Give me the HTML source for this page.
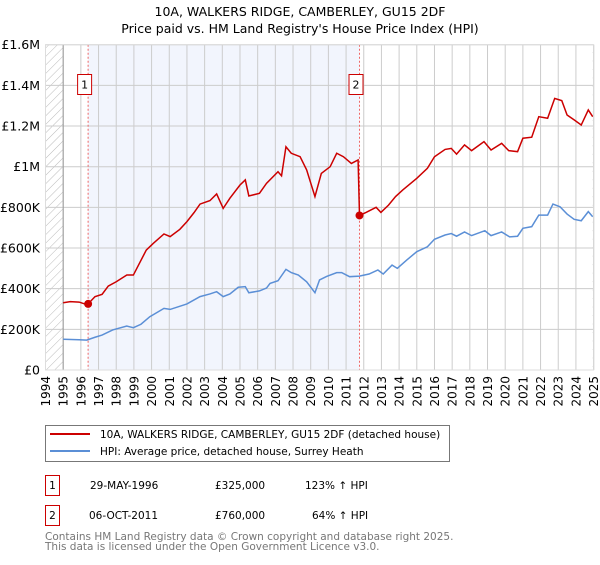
<!DOCTYPE html>
<html><head><meta charset="utf-8"><style>
body{margin:0;background:#fff;font-family:"Liberation Sans","DejaVu Sans",sans-serif;}
svg text{font-family:"DejaVu Sans","Liberation Sans",sans-serif;}
</style></head><body>
<svg id="chart" width="600" height="560" xmlns="http://www.w3.org/2000/svg">
<defs><pattern id="hatch" width="6" height="6" patternUnits="userSpaceOnUse" patternTransform="rotate(45)"><line x1="0" y1="0" x2="0" y2="6" stroke="#bbb" stroke-width="1"/></pattern></defs>
<text x="300" y="16" text-anchor="middle" font-size="12.5">10A, WALKERS RIDGE, CAMBERLEY, GU15 2DF</text>
<text x="300" y="33" text-anchor="middle" font-size="12.5">Price paid vs. HM Land Registry's House Price Index (HPI)</text>
<g id="plot"></g>
<g>
<rect x="45.5" y="425.5" width="404" height="36" fill="#fff" stroke="#777"/>
<line x1="50" y1="434" x2="90" y2="434" stroke="#cc0000" stroke-width="2"/>
<text x="100" y="438" font-size="10.5">10A, WALKERS RIDGE, CAMBERLEY, GU15 2DF (detached house)</text>
<line x1="50" y1="451" x2="90" y2="451" stroke="#5b8fd6" stroke-width="2"/>
<text x="100" y="455" font-size="10.5">HPI: Average price, detached house, Surrey Heath</text>
</g>
<g font-size="10.5">
<rect x="45.5" y="475.5" width="14" height="20" fill="#fff" stroke="#cc0000"/>
<text x="52.5" y="489" text-anchor="middle">1</text>
<text x="90" y="489">29-MAY-1996</text>
<text x="215" y="489">£325,000</text>
<text x="305" y="489">123% ↑ HPI</text>
<rect x="45.5" y="505.5" width="14" height="20" fill="#fff" stroke="#cc0000"/>
<text x="52.5" y="519" text-anchor="middle">2</text>
<text x="89" y="519">06-OCT-2011</text>
<text x="215" y="519">£760,000</text>
<text x="312" y="519">64% ↑ HPI</text>
</g>
<g font-size="10.5" fill="#777">
<text x="45" y="540">Contains HM Land Registry data © Crown copyright and database right 2025.</text>
<text x="45" y="550">This data is licensed under the Open Government Licence v3.0.</text>
</g>
</svg>
<script>
const yearTicks=[1994,1995,1996,1997,1998,1999,2000,2001,2002,2003,2004,2005,2006,2007,2008,2009,2010,2011,2012,2013,2014,2015,2016,2017,2018,2019,2020,2021,2022,2023,2024,2025];
const priceTicks=[0,200000,400000,600000,800000,1000000,1200000,1400000,1600000];
const priceTickLabels=["£0","£200K","£400K","£600K","£800K","£1M","£1.2M","£1.4M","£1.6M"];
const hpiYears=[1995.0,1995.9,1996.33,1996.8,1997.2,1997.8,1998.6,1998.97,1999.4,1999.9,2000.7,2001.05,2002.0,2002.74,2003.3,2003.68,2004.05,2004.43,2004.9,2005.3,2005.5,2006.1,2006.5,2006.7,2007.15,2007.6,2007.9,2008.3,2008.77,2009.24,2009.5,2009.9,2010.47,2010.75,2011.2,2011.75,2012.3,2012.8,2013.1,2013.6,2013.9,2014.43,2015.0,2015.6,2016.0,2016.6,2016.95,2017.25,2017.7,2018.1,2018.85,2019.2,2019.8,2020.25,2020.7,2021.0,2021.5,2021.9,2022.4,2022.7,2023.1,2023.5,2023.9,2024.3,2024.7,2024.95];
const hpiValues=[151,149,147,161,172,197,216,208,225,262,303,298,325,361,374,385,361,374,407,410,380,389,403,426,439,495,479,467,434,380,443,460,479,479,459,462,472,492,472,516,500,541,582,606,643,664,671,658,679,661,685,661,679,655,658,697,705,762,762,816,803,767,741,734,779,754];
const priceYears=[1995.0,1995.4,1995.9,1996.33,1996.41,1996.8,1997.2,1997.55,1998.0,1998.6,1998.97,1999.7,2000.1,2000.7,2001.05,2001.6,2002.0,2002.4,2002.74,2003.3,2003.68,2004.05,2004.43,2005.0,2005.3,2005.5,2006.1,2006.5,2007.15,2007.35,2007.6,2007.9,2008.4,2008.77,2009.24,2009.6,2010.1,2010.47,2010.85,2011.3,2011.68,2011.76,2012.13,2012.7,2012.97,2013.4,2013.8,2014.2,2015.0,2015.6,2016.0,2016.6,2016.95,2017.25,2017.7,2018.1,2018.8,2019.2,2019.8,2020.2,2020.7,2021.0,2021.5,2021.9,2022.4,2022.8,2023.2,2023.5,2023.9,2024.3,2024.7,2024.95];
const priceValues=[331,336,334,322,325,361,372,413,434,467,467,590,623,669,656,692,730,774,816,833,866,795,845,910,935,856,869,918,975,955,1098,1066,1049,984,853,967,1000,1066,1049,1016,1033,760,775,800,775,811,853,885,943,992,1049,1085,1090,1062,1107,1079,1123,1082,1115,1079,1074,1140,1145,1246,1238,1336,1325,1254,1230,1205,1279,1246];
const saleYears=[1996.41,2011.76];
const salePrices=[325000,760000];
const saleLabels=["1","2"];

const X0=45.5,X1=593.6,Y0=370,Y1=44.7;
const xs=y=>X0+(y-1994)*(X1-X0)/31;
const ys=v=>Y0-v*(Y0-Y1)/1600000;
const NS="http://www.w3.org/2000/svg";
const plot=document.getElementById('plot');
function mk(tag,attrs,parent){const e=document.createElementNS(NS,tag);for(const k in attrs)e.setAttribute(k,attrs[k]);(parent||plot).appendChild(e);return e;}

const bg=mk('rect',{x:X0,y:Y1,width:X1-X0,height:Y0-Y1,fill:'#fff'});


const h1=mk('rect',{x:X0,y:Y1,width:xs(1995)-X0,height:Y0-Y1,fill:'url(#hatch)'});


const h2=mk('rect',{x:xs(2024.95),y:Y1,width:X1-xs(2024.95),height:Y0-Y1,fill:'url(#hatch)'});


const shade=mk('rect',{x:xs(saleYears[0]),y:Y1,width:xs(saleYears[1])-xs(saleYears[0]),height:Y0-Y1,fill:'#f2f5fd'});



yearTicks.forEach(yr=>{
  const g=mk('line',{x1:xs(yr),x2:xs(yr),y1:Y1,y2:Y0,stroke:'#ccc','stroke-width':1});
  
  
  const t=mk('text',{x:0,y:0,'font-size':12,'text-anchor':'end',transform:`translate(${xs(yr)+4.5},376) rotate(-90)`});
  
  
  t.textContent=yr;
});
priceTicks.forEach((v,i)=>{
  const g=mk('line',{x1:X0,x2:X1,y1:ys(v),y2:ys(v),stroke:'#ccc','stroke-width':1});
  
  
  const t=mk('text',{x:40,y:ys(v)+4.5,'font-size':12.5,'text-anchor':'end'});
  
  
  t.textContent=priceTickLabels[i];
});
const ax=mk('line',{x1:xs(1995),x2:xs(1995),y1:Y1,y2:Y0,stroke:'#999'});


const ax2=mk('line',{x1:X1,x2:X1,y1:Y1,y2:Y0,stroke:'#999'});



saleYears.forEach((yr,i)=>{
  const l=mk('line',{x1:xs(yr),x2:xs(yr),y1:Y1,y2:Y0,stroke:'#e66','stroke-width':1,'stroke-dasharray':'2,2'});
  
  
});

const hp=mk('polyline',{points:hpiYears.map((y,i)=>xs(y)+','+ys(hpiValues[i]*1000)).join(' '),fill:'none',stroke:'#5b8fd6','stroke-width':1.5});


const pp=mk('polyline',{points:priceYears.map((y,i)=>xs(y)+','+ys(priceValues[i]*1000)).join(' '),fill:'none',stroke:'#cc0000','stroke-width':1.5});



saleYears.forEach((yr,i)=>{
  const c=mk('circle',{cx:xs(yr),cy:ys(salePrices[i]),r:4,fill:'#cc0000'});
  
  
  const r=mk('rect',{x:xs(yr)-10.5,y:74.5,width:14,height:20,fill:'#fff',stroke:'#cc0000'});
  
  
  const t=mk('text',{x:xs(yr)-3.5,y:88.5,'font-size':11,'text-anchor':'middle'});
  
  
  t.textContent=saleLabels[i];
});
const fr=mk('rect',{x:X0,y:Y1,width:X1-X0,height:Y0-Y1,fill:'none',stroke:'#ddd'});


</script>
</body></html>
